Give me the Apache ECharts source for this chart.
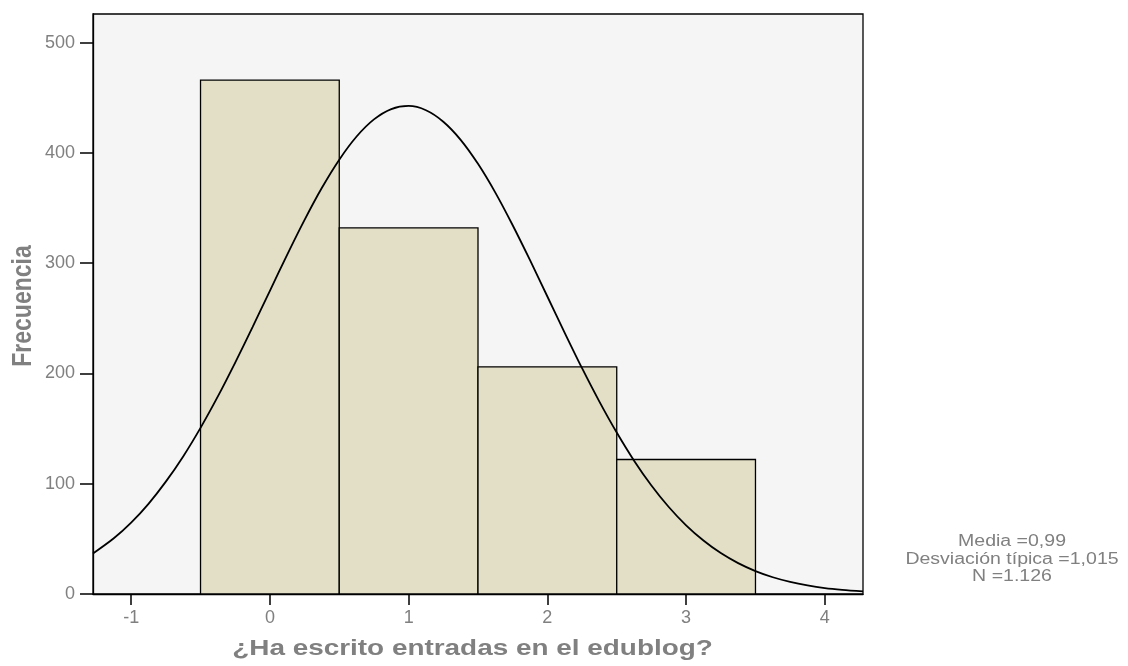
<!DOCTYPE html>
<html>
<head>
<meta charset="utf-8">
<script src="https://cdn.jsdelivr.net/npm/echarts@6.0.0/dist/echarts.min.js"></script>
<style>
  html, body { margin: 0; padding: 0; background: #ffffff; }
  #chart { width: 1128px; height: 666px; }
</style>
</head>
<body>
<div id="chart"></div>
<script>
// Histogram bins (centers) and frequencies
const binCenters = [0, 1, 2, 3];
const frequencies = [466, 332, 206, 122];
const binWidth = 1;

// Normal curve
const curveX = [-1.275, -1.125, -1, -0.875, -0.75, -0.625, -0.5, -0.375, -0.25, -0.125, 0, 0.125, 0.25, 0.375, 0.5, 0.625, 0.75, 0.875, 1, 1.125, 1.25, 1.375, 1.5, 1.625, 1.75, 1.875, 2, 2.125, 2.25, 2.375, 2.5, 2.625, 2.75, 2.875, 3, 3.125, 3.25, 3.375, 3.5, 3.625, 3.75, 3.875, 4, 4.125, 4.275];
const curveY = [36.7, 50.5, 64.7, 81.8, 101.9, 124.8, 150.7, 179.2, 209.9, 242.1, 275.0, 307.8, 339.3, 368.4, 393.9, 414.9, 430.4, 439.8, 442.6, 438.7, 428.3, 411.9, 390.1, 364.0, 334.4, 302.7, 269.8, 236.9, 204.8, 174.5, 146.4, 120.9, 98.4, 78.9, 62.3, 48.5, 37.1, 28.0, 20.8, 15.2, 11.0, 7.8, 5.4, 3.8, 2.4];

// Tick labels
const xTicks = [-1, 0, 1, 2, 3, 4];
const yTicks = [0, 100, 200, 300, 400, 500];

// Texts
const xTitle = '¿Ha escrito entradas en el edublog?';
const yTitle = 'Frecuencia';
const statsLines = ['Media =0,99', 'Desviación típica =1,015', 'N =1.126'];

const FONT = '"Liberation Sans", Arial, sans-serif';
const GRAY = '#808080';

const chart = echarts.init(document.getElementById('chart'), null, { renderer: 'canvas' });

const histData = binCenters.map((c, i) => [c, frequencies[i]]);
const curveData = curveX.map((x, i) => [x, curveY[i]]);

const statsGraphics = statsLines.map((t, i) => ({
  type: 'text',
  x: 1012,
  y: 542 + i * 17.5,
  scaleX: 1.22,
  style: {
    text: t,
    font: '16px ' + FONT,
    fill: GRAY,
    align: 'center',
    verticalAlign: 'middle'
  }
}));

const option = {
  backgroundColor: '#ffffff',
  animation: false,
  grid: {
    left: 93, right: 265, top: 14, bottom: 72,
    show: true,
    backgroundColor: '#f5f5f5',
    borderColor: '#000000',
    borderWidth: 1.3
  },
  xAxis: {
    type: 'value',
    min: -1.275,
    max: 4.275,
    splitLine: { show: false },
    axisLine: { show: true, onZero: false, lineStyle: { color: '#000', width: 1.3 } },
    axisTick: { show: true, length: 11, inside: false, customValues: xTicks, lineStyle: { color: '#000', width: 1.5 } },
    axisLabel: { customValues: xTicks, color: GRAY, fontSize: 18, fontFamily: FONT, margin: 15 }
  },
  yAxis: {
    type: 'value',
    min: 0,
    max: 526,
    splitLine: { show: false },
    axisLine: { show: true, onZero: false, lineStyle: { color: '#000', width: 1.3 } },
    axisTick: { show: true, length: 13, inside: false, customValues: yTicks, lineStyle: { color: '#000', width: 1.5 } },
    axisLabel: { customValues: yTicks, color: GRAY, fontSize: 18, fontFamily: FONT, margin: 18 }
  },
  series: [
    {
      type: 'custom',
      data: histData,
      z: 2,
      renderItem: function (params, api) {
        const c = api.value(0);
        const v = api.value(1);
        const p0 = api.coord([c - binWidth / 2, v]);
        const p1 = api.coord([c + binWidth / 2, 0]);
        return {
          type: 'rect',
          shape: { x: p0[0], y: p0[1], width: p1[0] - p0[0], height: p1[1] - p0[1] },
          style: { fill: '#e2dfc6', stroke: '#000000', lineWidth: 1.3 }
        };
      }
    },
    {
      type: 'line',
      data: curveData,
      smooth: 0.3,
      showSymbol: false,
      symbol: 'none',
      clip: true,
      z: 3,
      lineStyle: { color: '#000000', width: 1.8 }
    }
  ],
  graphic: [
    {
      type: 'text',
      x: 472.5,
      y: 649,
      scaleX: 1.24,
      style: {
        text: xTitle,
        font: 'bold 22.5px ' + FONT,
        fill: GRAY,
        align: 'center',
        verticalAlign: 'middle'
      }
    },
    {
      type: 'text',
      x: 23,
      y: 306,
      rotation: Math.PI / 2,
      scaleY: 1.22,
      style: {
        text: yTitle,
        font: 'bold 23px ' + FONT,
        fill: GRAY,
        align: 'center',
        verticalAlign: 'middle'
      }
    }
  ].concat(statsGraphics)
};

chart.setOption(option);
</script>
</body>
</html>
